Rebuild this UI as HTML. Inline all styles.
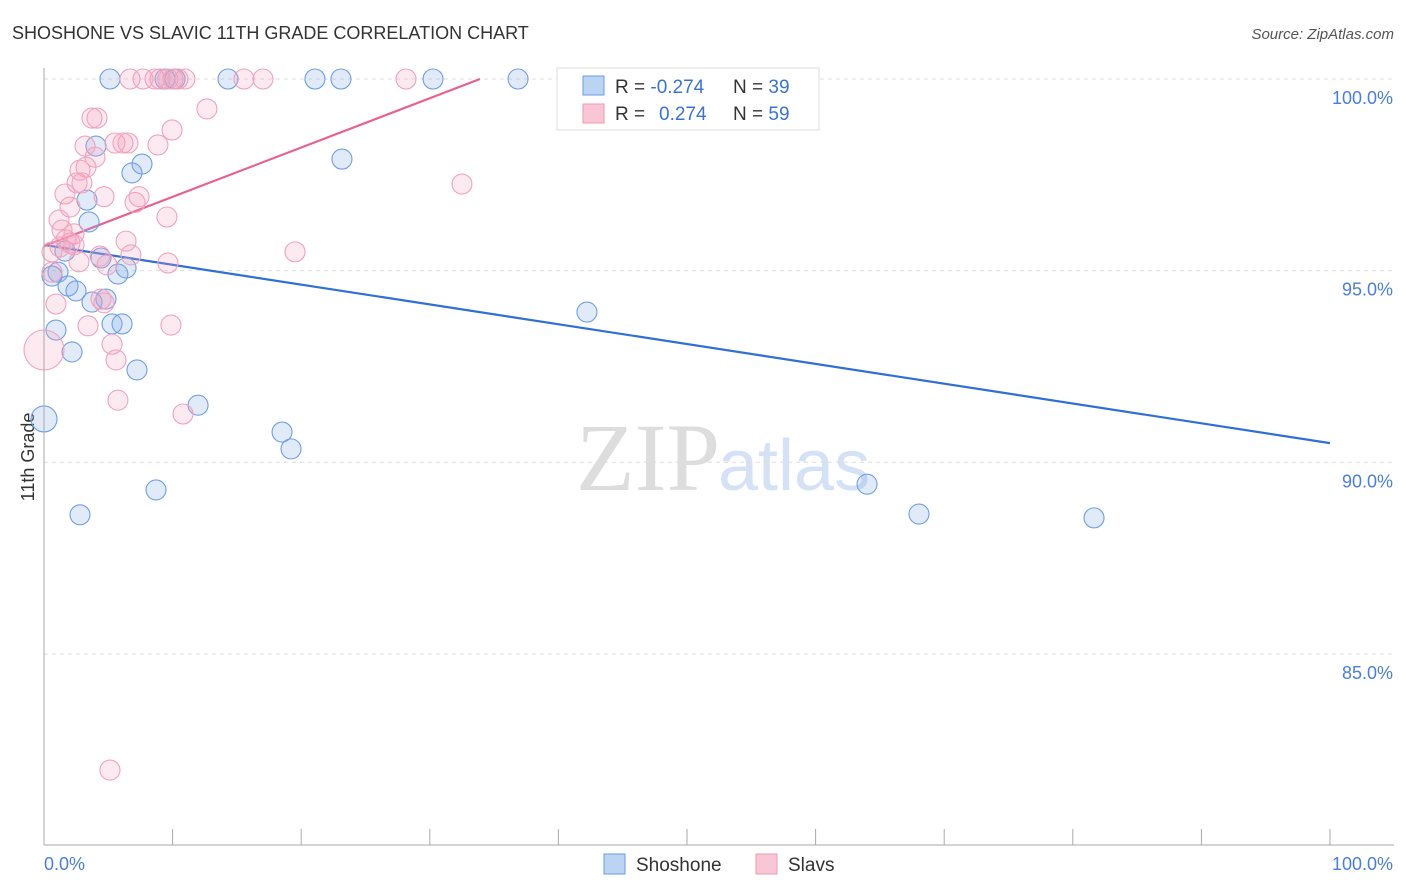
<!DOCTYPE html>
<html><head><meta charset="utf-8"><style>
body{margin:0;background:#fff;font-family:"Liberation Sans",sans-serif}
svg{display:block}
</style></head><body>
<svg id="c" width="1406" height="892">
<text x="12" y="39" font-size="18" fill="#333">SHOSHONE VS SLAVIC 11TH GRADE CORRELATION CHART</text>
<text x="1394" y="39" font-size="15" fill="#555" font-style="italic" text-anchor="end">Source: ZipAtlas.com</text>
<text x="34" y="457" font-size="18" fill="#333" transform="rotate(-90 34 457)" text-anchor="middle">11th Grade</text>
<text x="720" y="490" font-size="96" fill="#ddd" font-family="Liberation Serif,serif" text-anchor="end">ZIP</text>
<text x="718" y="490" font-size="72" fill="#d5e2f5">atlas</text>
<g id="grid"></g><g id="ticks"></g><g id="lines"></g><g id="pts"></g>
<line x1="44" y1="68" x2="44" y2="845" stroke="#aaa"/>
<line x1="44" y1="845" x2="1394" y2="845" stroke="#aaa"/>
<text x="44" y="870" font-size="18" fill="#4a7fd4">0.0%</text>
<text x="1393" y="870" font-size="18" fill="#4a7fd4" text-anchor="end">100.0%</text>
<g>
<rect x="557" y="68" width="262" height="62" fill="#fff" stroke="#ddd"/>
<rect x="583" y="76" width="21" height="19" fill="#bcd4f4" stroke="#6a9be0"/>
<rect x="583" y="104" width="21" height="19" fill="#f9c6d6" stroke="#ee9ab6"/>
<text x="615" y="93" font-size="19" fill="#333">R = <tspan fill="#3a74d0">-0.274</tspan></text>
<text x="733" y="93" font-size="19" fill="#333">N = <tspan fill="#3a74d0">39</tspan></text>
<text x="615" y="120" font-size="19" fill="#333">R = <tspan fill="#3a74d0" x="659">0.274</tspan></text>
<text x="733" y="120" font-size="19" fill="#333">N = <tspan fill="#3a74d0">59</tspan></text>
</g>
<g><rect x="604" y="854" width="21" height="20" fill="#bcd4f4" stroke="#6a9be0"/><text x="636" y="871" font-size="19" fill="#333">Shoshone</text></g>
<g><rect x="756" y="854" width="21" height="20" fill="#f9c6d6" stroke="#ee9ab6"/><text x="788" y="871" font-size="19" fill="#333">Slavs</text></g>
</svg>
<script>
const yTicks=[100,95,90,85];
const xTicks=[0,10,20,30,40,50,60,70,80,90,100];
const shoX=[5.13,9.41,10.19,14.31,21.07,23.09,30.25,36.86,4.04,7.62,6.84,23.17,3.34,3.5,1.63,4.43,6.38,5.75,1.09,0.62,1.87,2.49,3.73,4.82,0.93,5.29,6.07,2.18,7.23,42.22,0,11.98,18.51,19.21,8.71,2.8,64.0,68.04,81.65];
const shoY=[100,100,100,100,100,100,100,100,98.25,97.78,97.55,97.91,96.84,96.27,95.51,95.33,95.07,94.91,94.96,94.86,94.6,94.47,94.18,94.26,93.45,93.61,93.61,92.88,92.41,93.92,91.13,91.49,90.79,90.35,89.28,88.63,89.43,88.65,88.55];
const slaX=[6.69,7.7,8.63,10.03,10.42,10.96,15.55,17.03,28.15,9.02,9.64,3.73,4.12,12.67,3.19,5.52,6.14,8.86,9.96,3.97,2.8,3.27,2.57,2.95,7.39,7.08,4.67,1.63,2.02,1.17,9.56,32.5,1.4,2.33,1.71,2.02,6.38,19.52,0.62,2.72,6.76,4.9,4.35,9.64,0.62,4.43,4.67,0.93,3.42,9.87,5.29,5.6,0,5.75,10.81,5.13,2.33,1.24,6.53];
const slaY=[100,100,100,100,100,100,100,100,100,100,100,98.98,98.98,99.22,98.25,98.33,98.33,98.28,98.67,97.96,97.62,97.7,97.29,97.29,96.93,96.78,96.93,97.0,96.66,96.32,96.4,97.26,96.06,95.96,95.8,95.72,95.77,95.49,95.49,95.23,95.41,95.15,95.38,95.2,94.96,94.26,94.16,94.13,93.56,93.58,93.08,92.67,92.93,91.62,91.26,81.97,95.67,95.62,98.33];
const slaR=[10,10,10,10,10,10,10,10,10,10,10,10,10,10,10,10,10,10,10,10,10,10,10,10,10,10,10,10,10,10,10,10,10,10,10,10,10,10,10,10,10,10,10,10,10,10,10,10,10,10,10,10,20,10,10,10,10,10,10];
const trendIntercept=[95.67,95.64];
const trendSlope=[-0.0517,0.1286];
const X=v=>44+v*12.86, Y=v=>79+(100-v)*38.33;
const NS='http://www.w3.org/2000/svg';
function mk(t,a,p){const e=document.createElementNS(NS,t);for(const k in a)e.setAttribute(k,a[k]);p.appendChild(e);return e;}
const g=document.getElementById('grid'),tk=document.getElementById('ticks'),ln=document.getElementById('lines'),pt=document.getElementById('pts');
yTicks.forEach(v=>{const l=mk('line',{x1:44,x2:1394,y1:Y(v),y2:Y(v),stroke:'#ddd','stroke-dasharray':'4,4'},g);


const t=mk('text',{x:1393,y:Y(v)+25,'font-size':18,fill:'#4a7fd4','text-anchor':'end'},tk);t.textContent=v.toFixed(1)+'%';

});
xTicks.forEach(v=>{const l=mk('line',{x1:X(v),x2:X(v),y1:829,y2:845,stroke:'#aaa'},tk);

});
shoX.forEach((x,i)=>{const c=mk('circle',{cx:X(x),cy:Y(shoY[i]),r:x===0?13:10,fill:'rgba(130,170,230,0.25)',stroke:'#6f9fe0','stroke-width':1.1},pt);

});
slaX.forEach((x,i)=>{const c=mk('circle',{cx:X(x),cy:Y(slaY[i]),r:slaR[i],fill:'rgba(244,160,188,0.22)',stroke:'#f0a3bd','stroke-width':1.1},pt);

});
let b=mk('line',{x1:X(0),y1:Y(trendIntercept[0]),x2:X(100),y2:Y(trendIntercept[0]+trendSlope[0]*100),stroke:'#2f6fd6','stroke-width':2.2},ln);


const xe=(100-trendIntercept[1])/trendSlope[1];
let p=mk('line',{x1:X(0),y1:Y(trendIntercept[1]),x2:X(xe),y2:Y(100),stroke:'#e8628f','stroke-width':2.2},ln);


</script>
</body></html>
